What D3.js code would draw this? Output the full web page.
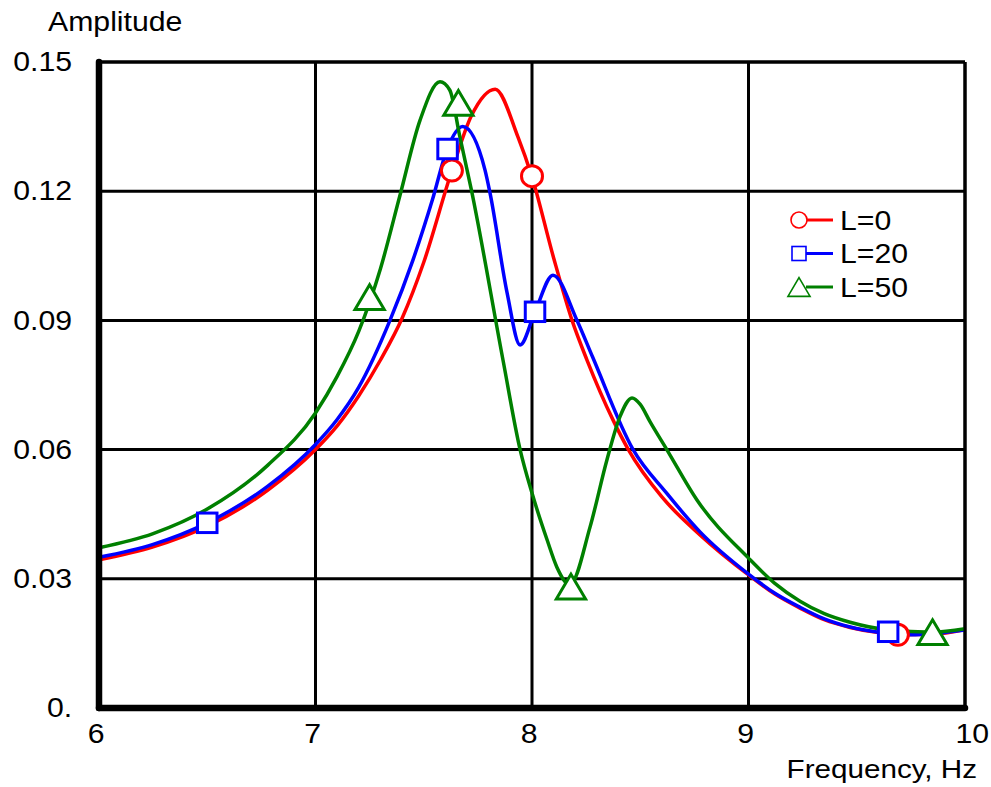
<!DOCTYPE html>
<html>
<head>
<meta charset="utf-8">
<script src="https://cdn.jsdelivr.net/npm/d3@7"></script>
<style>
  html, body { margin: 0; padding: 0; background: #fff; }
  svg { display: block; }
  text { font-family: "Liberation Sans", Arial, sans-serif; fill: #000; }
</style>
</head>
<body>
<svg id="chart" width="991" height="787"></svg>
<script>
// ---------- data ----------
const xTicks = [6, 7, 8, 9, 10];
const xTickLabels = ["6", "7", "8", "9", "10"];
const yTicks = [0, 0.03, 0.06, 0.09, 0.12, 0.15];
const yTickLabels = ["0.", "0.03", "0.06", "0.09", "0.12", "0.15"];
const seriesNames = ["L=0", "L=20", "L=50"];

const freqL0 = [6.0, 6.25, 6.5, 6.78, 7.0, 7.1, 7.2, 7.3, 7.4, 7.5, 7.63, 7.72, 7.83, 7.935, 8.0, 8.1, 8.185, 8.254, 8.374, 8.445, 8.6, 8.776, 9.0, 9.12, 9.238, 9.35, 9.47, 9.6, 9.7, 9.85, 10.0];
const ampL0  = [0.0344, 0.0374, 0.0422, 0.0506, 0.0600, 0.0655, 0.0725, 0.0808, 0.0905, 0.1035, 0.1248, 0.1375, 0.1437, 0.1326, 0.1233, 0.1045, 0.0900, 0.0808, 0.0669, 0.0600, 0.0490, 0.0402, 0.0309, 0.0265, 0.0232, 0.0205, 0.0187, 0.0175, 0.0170, 0.0171, 0.0182];

const freqL20 = [6.0, 6.25, 6.5, 6.78, 7.0, 7.1, 7.2, 7.344, 7.45, 7.54, 7.607, 7.68, 7.783, 7.806, 7.885, 7.945, 8.014, 8.097, 8.208, 8.28, 8.467, 8.62, 8.776, 9.0, 9.12, 9.238, 9.35, 9.47, 9.6, 9.75, 10.0];
const ampL20  = [0.0350, 0.0380, 0.0430, 0.0515, 0.0612, 0.0670, 0.0745, 0.0900, 0.1040, 0.1180, 0.1296, 0.1350, 0.1249, 0.1196, 0.0964, 0.0843, 0.0920, 0.1005, 0.0900, 0.0815, 0.0600, 0.0500, 0.0409, 0.0311, 0.0267, 0.0234, 0.0207, 0.0188, 0.0176, 0.0170, 0.0181];

const freqL50 = [6.0, 6.25, 6.5, 6.78, 7.0, 7.1, 7.2, 7.3, 7.39, 7.483, 7.575, 7.62, 7.667, 7.72, 7.866, 7.945, 8.0, 8.07, 8.115, 8.175, 8.268, 8.346, 8.406, 8.462, 8.50, 8.545, 8.624, 8.762, 9.0, 9.12, 9.238, 9.35, 9.469, 9.65, 9.85, 10.0];
const ampL50  = [0.0372, 0.0405, 0.0462, 0.0564, 0.0685, 0.0770, 0.0875, 0.1020, 0.1190, 0.1365, 0.1454, 0.1435, 0.1326, 0.1203, 0.0808, 0.0600, 0.0499, 0.0390, 0.0327, 0.0286, 0.0420, 0.0576, 0.0676, 0.0720, 0.0705, 0.0665, 0.0599, 0.0483, 0.0348, 0.0290, 0.0248, 0.0219, 0.0199, 0.0181, 0.0176, 0.0184];

const markFreqL0 = [7.63, 8.0, 9.69];
const markAmpL0  = [0.1248, 0.1235, 0.0170];
const markFreqL20 = [6.5, 7.61, 8.014, 9.645];
const markAmpL20  = [0.0430, 0.1298, 0.0920, 0.0177];
const markFreqL50 = [7.25, 7.66, 8.18, 9.85];
const markAmpL50  = [0.0954, 0.1405, 0.0282, 0.0176];

const colors = ["#ff0000", "#0000ff", "#008000"];
const shapes = ["circle", "square", "triangle"];

// ---------- setup ----------
const svg = d3.select("#chart");
const pLeft = 99, pRight = 965, pTop = 62, pBottom = 708;
const x = d3.scaleLinear().domain([6, 10]).range([pLeft, pRight]);
const y = d3.scaleLinear().domain([0, 0.15]).range([pBottom, pTop]);
const stretch = 1.12;

// grid lines
const grid = svg.append("g");
grid.selectAll(".vg").data(xTicks.slice(1)).enter().append("line")
  .attr("x1", d => x(d)).attr("x2", d => x(d))
  .attr("y1", pTop).attr("y2", pBottom)
  .attr("stroke", "#000").attr("stroke-width", 3);
grid.selectAll(".hg").data(yTicks.slice(1)).enter().append("line")
  .attr("x1", pLeft).attr("x2", pRight)
  .attr("y1", d => y(d)).attr("y2", d => y(d))
  .attr("stroke", "#000").attr("stroke-width", 3);

// curves
const series = [
  {f: freqL0, a: ampL0, mf: markFreqL0, ma: markAmpL0},
  {f: freqL20, a: ampL20, mf: markFreqL20, ma: markAmpL20},
  {f: freqL50, a: ampL50, mf: markFreqL50, ma: markAmpL50}
];
const line = d3.line().x(d => x(d[0])).y(d => y(d[1])).curve(d3.curveMonotoneX);

series.forEach((s, i) => {
  const pts = s.f.map((f, j) => [f, s.a[j]]);
  svg.append("path").datum(pts)
    .attr("d", line)
    .attr("fill", "none")
    .attr("stroke", colors[i])
    .attr("stroke-width", 3.5)
    .attr("stroke-linejoin", "round");
});

function drawMarker(g, shape, cx, cy, size, color, sw) {
  if (shape === "circle") {
    g.append("circle").attr("cx", cx).attr("cy", cy).attr("r", size / 2)
      .attr("fill", "#fff").attr("stroke", color).attr("stroke-width", sw);
  } else if (shape === "square") {
    g.append("rect").attr("x", cx - size / 2).attr("y", cy - size / 2)
      .attr("width", size).attr("height", size)
      .attr("fill", "#fff").attr("stroke", color).attr("stroke-width", sw);
  } else {
    const w = size * 1.3, h = size * 1.1;
    g.append("path")
      .attr("d", `M${cx},${cy - h / 2}L${cx + w / 2},${cy + h / 2}L${cx - w / 2},${cy + h / 2}Z`)
      .attr("fill", "#fff").attr("stroke", color).attr("stroke-width", sw)
      .attr("stroke-linejoin", "miter");
  }
}

const markers = svg.append("g");
series.forEach((s, i) => {
  s.mf.forEach((f, j) => {
    const sz = shapes[i] === "circle" ? 21 : (shapes[i] === "square" ? 19.5 : 22.5);
    drawMarker(markers, shapes[i], x(f), y(s.ma[j]), sz, colors[i], 3);
  });
});

// frame: top/right thin, left/bottom thick
svg.append("line").attr("x1", pLeft).attr("x2", pRight).attr("y1", pTop).attr("y2", pTop)
  .attr("stroke", "#000").attr("stroke-width", 3);
svg.append("line").attr("x1", pRight).attr("x2", pRight).attr("y1", pTop).attr("y2", pBottom)
  .attr("stroke", "#000").attr("stroke-width", 3);
svg.append("line").attr("x1", pLeft).attr("x2", pLeft).attr("y1", pTop).attr("y2", pBottom)
  .attr("stroke", "#000").attr("stroke-width", 6.5).attr("stroke-linecap", "round");
svg.append("line").attr("x1", pLeft).attr("x2", pRight).attr("y1", pBottom).attr("y2", pBottom)
  .attr("stroke", "#000").attr("stroke-width", 6.5).attr("stroke-linecap", "round");

// tick labels via axes
const yAxis = d3.axisLeft(y).tickValues(yTicks).tickSize(0).tickPadding(24)
  .tickFormat((d, i) => yTickLabels[i]);
const gy = svg.append("g").attr("transform", `translate(${pLeft},0)`).call(yAxis);
gy.select(".domain").remove();
gy.selectAll("text").attr("font-size", 27).attr("font-family", "Liberation Sans, Arial, sans-serif")
  .attr("transform", `scale(${stretch},1)`);

const xAxis = d3.axisBottom(x).tickValues(xTicks).tickSize(0).tickPadding(16)
  .tickFormat((d, i) => xTickLabels[i]);
const gx = svg.append("g").attr("transform", `translate(0,${pBottom})`).call(xAxis);
gx.select(".domain").remove();
gx.selectAll("text").attr("font-size", 27).attr("font-family", "Liberation Sans, Arial, sans-serif")
  .attr("transform", `scale(${stretch},1)`)
  .attr("dx", (d, i) => i === xTicks.length - 1 ? 6 : -3);

// helper for stretched free text
function addText(tx, ty, str, size, anchor, sx) {
  svg.append("g").attr("transform", `translate(${tx},${ty})`)
    .append("text").attr("transform", `scale(${sx},1)`)
    .attr("text-anchor", anchor).attr("font-size", size).text(str);
}

// axis titles
addText(48, 30.5, "Amplitude", 27, "start", stretch);
addText(977, 778, "Frequency, Hz", 26, "end", 1.14);

// legend
const legend = svg.append("g");
seriesNames.forEach((name, i) => {
  const ly = 220 + i * 33.5;
  legend.append("line").attr("x1", 806).attr("x2", 833).attr("y1", ly).attr("y2", ly)
    .attr("stroke", colors[i]).attr("stroke-width", 3);
  drawMarker(legend, shapes[i], 799, ly, shapes[i] === "circle" ? 16 : (shapes[i] === "square" ? 14 : 17), colors[i], 1.6);
  addText(840, ly + 9.5, name, 27, "start", stretch);
});
</script>
</body>
</html>
